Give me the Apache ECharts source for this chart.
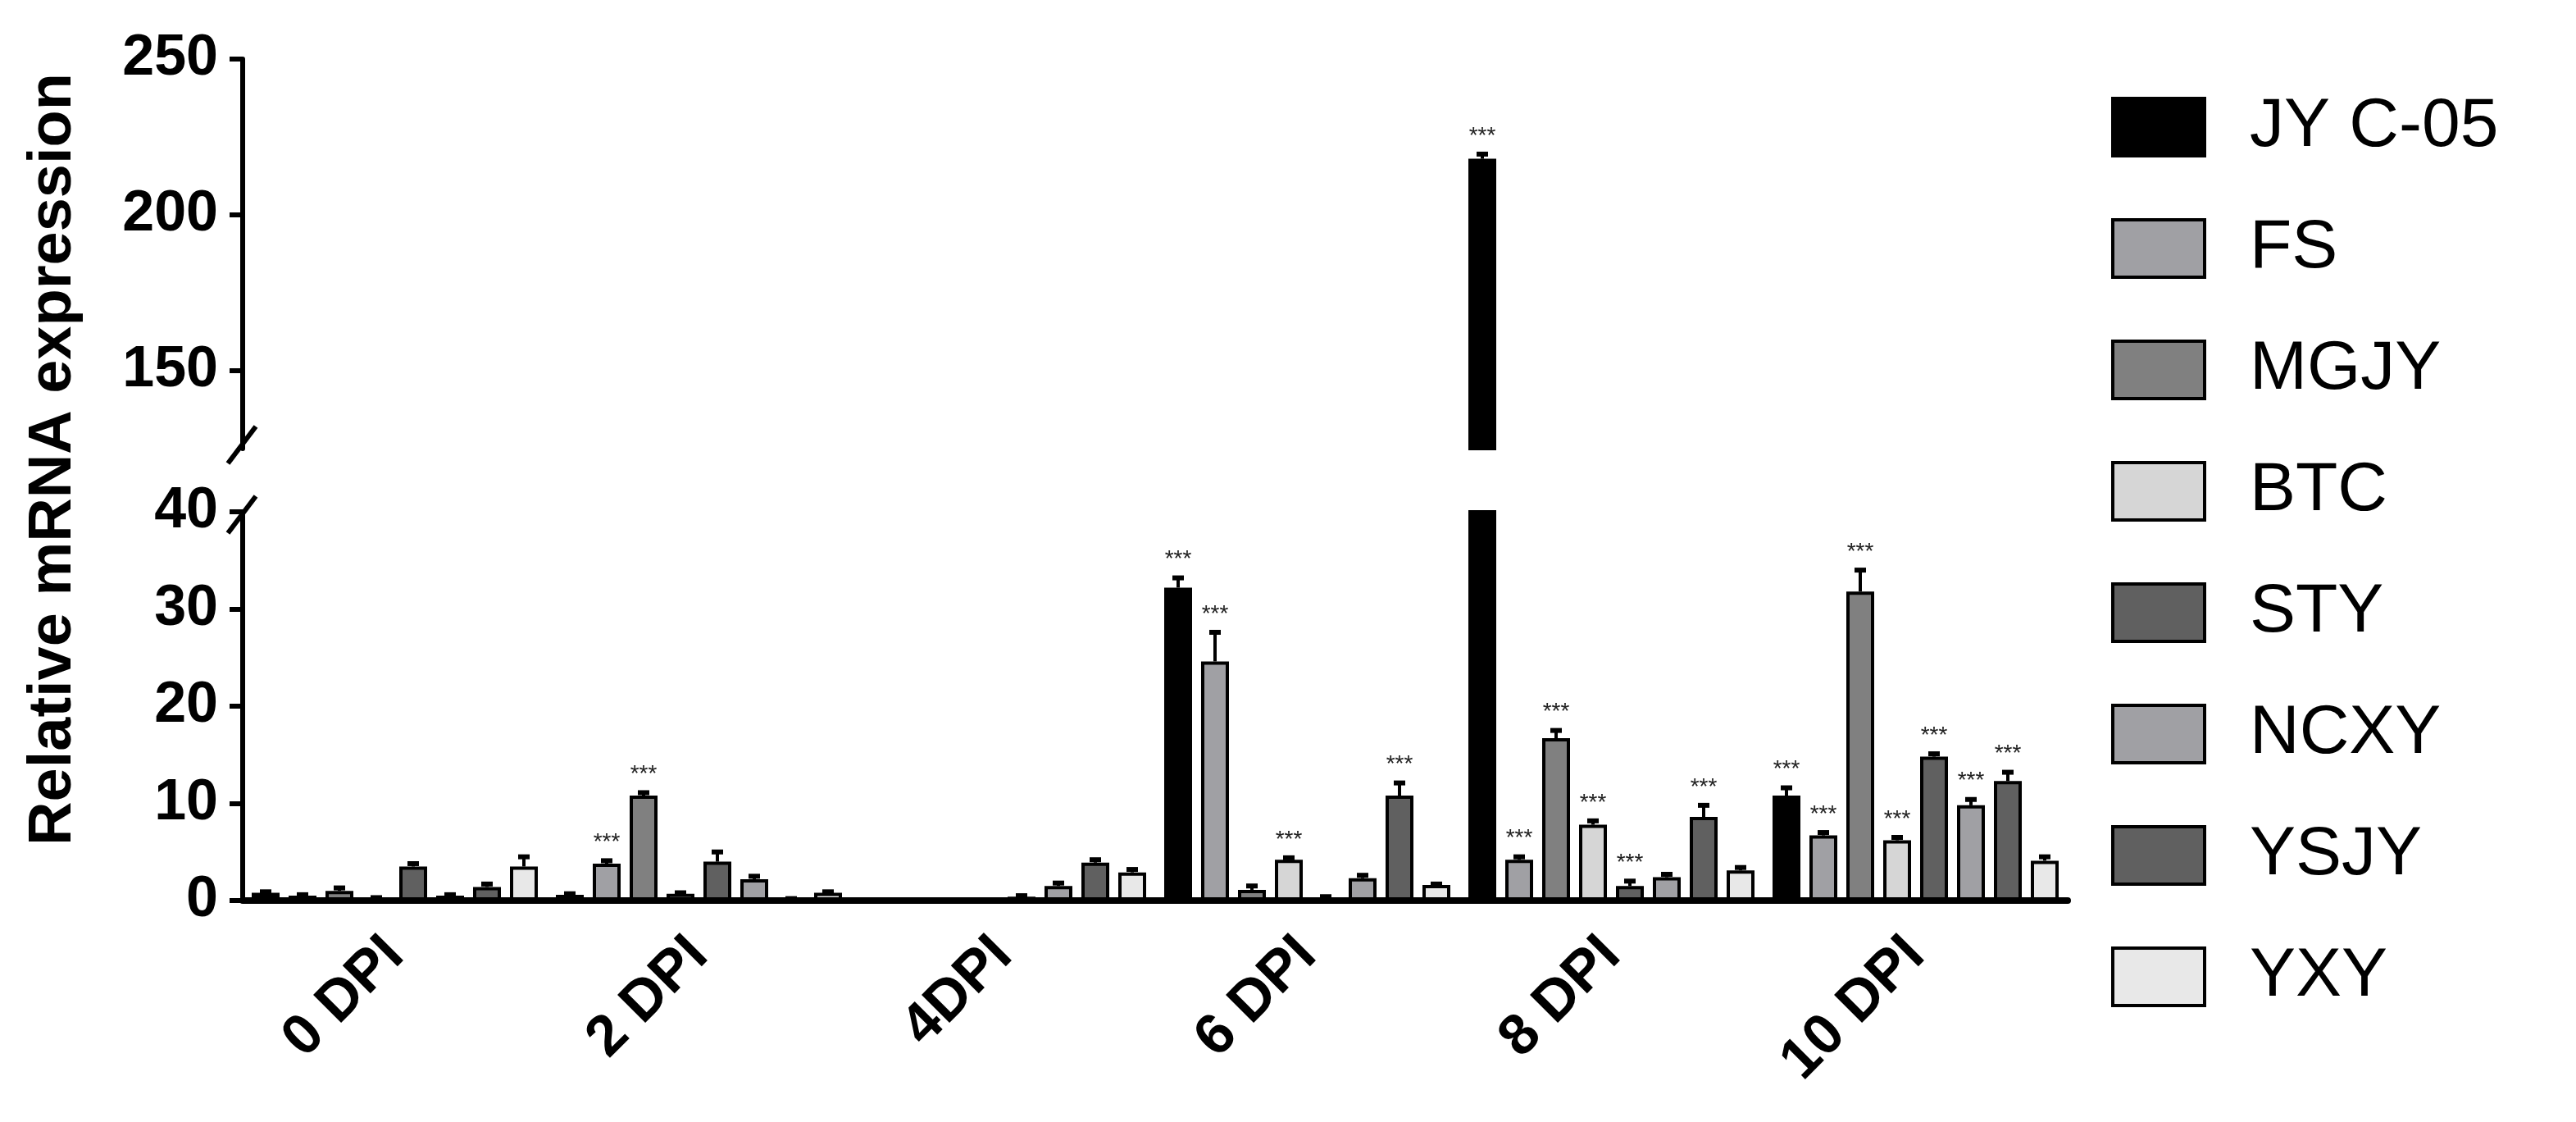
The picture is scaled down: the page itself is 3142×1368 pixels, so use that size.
<!DOCTYPE html>
<html>
<head>
<meta charset="utf-8">
<script src="https://cdn.jsdelivr.net/npm/echarts@6/dist/echarts.min.js"></script>
<style>html,body{margin:0;padding:0;background:#fff}#main{width:3142px;height:1368px}</style>
</head>
<body>
<div id="main"></div>
<script>
// 数据
const categories = ['0 DPI', '2 DPI', '4DPI', '6 DPI', '8 DPI', '10 DPI']
const seriesNames = ['JY C-05', 'FS', 'MGJY', 'BTC', 'STY', 'NCXY', 'YSJY', 'YXY']
const seriesColors = ['#000000', '#a0a0a4', '#808080', '#d6d6d6', '#606060', '#a0a0a4', '#606060', '#e8e8e8']
const values = [
  [0.8, 0.6, 0.05, 32.2, 218, 10.8],
  [0.5, 3.8, 0.05, 24.6, 4.2, 6.7],
  [1.0, 10.8, 0.05, 1.1, 16.7, 31.8],
  [0.2, 0.7, 0.05, 4.2, 7.8, 6.2],
  [3.5, 4.0, 0.4, 0.3, 1.5, 14.8],
  [0.5, 2.2, 1.5, 2.3, 2.4, 9.8],
  [1.4, 0.1, 3.9, 10.8, 8.6, 12.3],
  [3.5, 0.8, 2.9, 1.6, 3.1, 4.1]
]
const errors = [
  [0.1, 0.1, 0, 1.0, 1.5, 0.8],
  [0.1, 0.3, 0, 3.0, 0.3, 0.3],
  [0.3, 0.3, 0, 0.4, 0.8, 2.2],
  [0.1, 0.1, 0, 0.2, 0.4, 0.3],
  [0.3, 1.0, 0.1, 0.1, 0.5, 0.3],
  [0.1, 0.3, 0.3, 0.3, 0.3, 0.6],
  [0.3, 0.1, 0.3, 1.3, 1.2, 0.9],
  [1.0, 0.1, 0.3, 0.1, 0.3, 0.4]
]
// 显著性标记 (1 = ***)
const signif = [
  [0, 0, 0, 1, 1, 1],
  [0, 1, 0, 1, 1, 1],
  [0, 1, 0, 0, 1, 1],
  [0, 0, 0, 1, 1, 1],
  [0, 0, 0, 0, 1, 1],
  [0, 0, 0, 0, 0, 1],
  [0, 0, 0, 1, 1, 1],
  [0, 0, 0, 0, 0, 0]
]
const lowTicks = [0, 10, 20, 30, 40]
const highTicks = [150, 200, 250]

const myChart = echarts.init(document.getElementById('main'))
const BAR_W = 34
const GAP = 11
const FONT = 'Liberation Sans, Arial, sans-serif'

function offsetOf (i) {
  return (i - (seriesNames.length - 1) / 2) * (BAR_W + GAP)
}

// 误差线 + 星号
function errSeries (i, gridIdx, lo, hi) {
  const data = values[i].map((v, k) => [k, v, errors[i][k], signif[i][k]])
    .filter(d => d[1] + d[2] >= lo && d[1] <= hi)
  return {
    type: 'custom',
    xAxisIndex: gridIdx,
    yAxisIndex: gridIdx,
    z: 5,
    silent: true,
    data: data,
    renderItem: function (params, api) {
      const x = api.coord([api.value(0), 0])[0] + offsetOf(i)
      const v = api.value(1)
      const e = api.value(2)
      const yTop = api.coord([0, Math.min(v, hi)])[1]
      const yErr = api.coord([0, Math.min(v + e, hi)])[1]
      const children = []
      if (v <= hi && v >= lo) {
        children.push({ type: 'line', shape: { x1: x, y1: yTop, x2: x, y2: yErr }, style: { stroke: '#000', lineWidth: 4 } })
        children.push({ type: 'line', shape: { x1: x - 7, y1: yErr, x2: x + 7, y2: yErr }, style: { stroke: '#000', lineWidth: 6 } })
      }
      if (api.value(3) && v <= hi) {
        children.push({
          type: 'text', x: x, y: yErr - 8,
          style: { text: '***', fill: '#222', font: '28px ' + FONT, align: 'center', verticalAlign: 'bottom' }
        })
      }
      return { type: 'group', children: children }
    }
  }
}

const series = []
seriesNames.forEach((name, i) => {
  series.push({
    name: name, type: 'bar', xAxisIndex: 0, yAxisIndex: 0,
    data: values[i], barWidth: BAR_W, barGap: (GAP / BAR_W * 100) + '%',
    clip: true,
    itemStyle: { color: seriesColors[i], borderColor: '#000', borderWidth: 4 }
  })
  series.push({
    name: name, type: 'bar', xAxisIndex: 1, yAxisIndex: 1,
    data: values[i].map(v => v > 125 ? v : '-'), barWidth: BAR_W, barGap: (GAP / BAR_W * 100) + '%',
    clip: true,
    itemStyle: { color: seriesColors[i], borderColor: '#000', borderWidth: 4 }
  })
  series.push(errSeries(i, 0, 0, 40))
  series.push(errSeries(i, 1, 125, 250))
})

const yLabel = { color: '#000', fontSize: 70, fontWeight: 'bold', fontFamily: FONT, margin: 30 }
const option = {
  animation: false,
  grid: [
    { left: 296, width: 2226, top: 624, height: 474 },
    { left: 296, width: 2226, top: 72, height: 475 }
  ],
  xAxis: [
    {
      type: 'category', gridIndex: 0, data: categories,
      axisLine: { lineStyle: { color: '#000', width: 8 } },
      axisTick: { alignWithLabel: true, length: 30, lineStyle: { color: '#000', width: 5 } },
      axisLabel: { rotate: 45, color: '#000', fontSize: 70, fontWeight: 'bold', fontFamily: FONT, margin: 56 }
    },
    { type: 'category', gridIndex: 1, data: categories, show: false }
  ],
  yAxis: [
    {
      type: 'value', gridIndex: 0, min: 0, max: 40, interval: 10,
      axisLine: { show: true, lineStyle: { color: '#000', width: 6 } },
      axisTick: { show: true, length: 16, lineStyle: { color: '#000', width: 6 } },
      axisLabel: yLabel,
      splitLine: { show: false }
    },
    {
      type: 'value', gridIndex: 1, min: 125, max: 250, interval: 25,
      axisLine: { show: true, lineStyle: { color: '#000', width: 6 } },
      axisTick: { show: true, length: 16, customValues: highTicks, lineStyle: { color: '#000', width: 6 } },
      axisLabel: Object.assign({ customValues: highTicks }, yLabel),
      splitLine: { show: false }
    }
  ],
  legend: {
    data: seriesNames,
    orient: 'vertical',
    left: 2570, top: 108,
    itemWidth: 112, itemHeight: 70, itemGap: 64,
    icon: 'rect',
    itemStyle: { borderColor: '#000', borderWidth: 4 },
    textStyle: { fontSize: 84, lineHeight: 70, fontFamily: FONT, color: '#000', padding: [0, 0, 0, 50] }
  },
  graphic: [
    {
      type: 'text', x: 66, y: 560, rotation: Math.PI / 2,
      style: { text: 'Relative mRNA expression', font: 'bold 74px ' + FONT, fill: '#000', align: 'center', verticalAlign: 'middle' }
    },
    { type: 'line', shape: { x1: 278, y1: 565, x2: 312, y2: 520 }, style: { stroke: '#000', lineWidth: 6 } },
    { type: 'line', shape: { x1: 278, y1: 650, x2: 312, y2: 605 }, style: { stroke: '#000', lineWidth: 6 } }
  ],
  series: series
}
myChart.setOption(option)
</script>
</body>
</html>
